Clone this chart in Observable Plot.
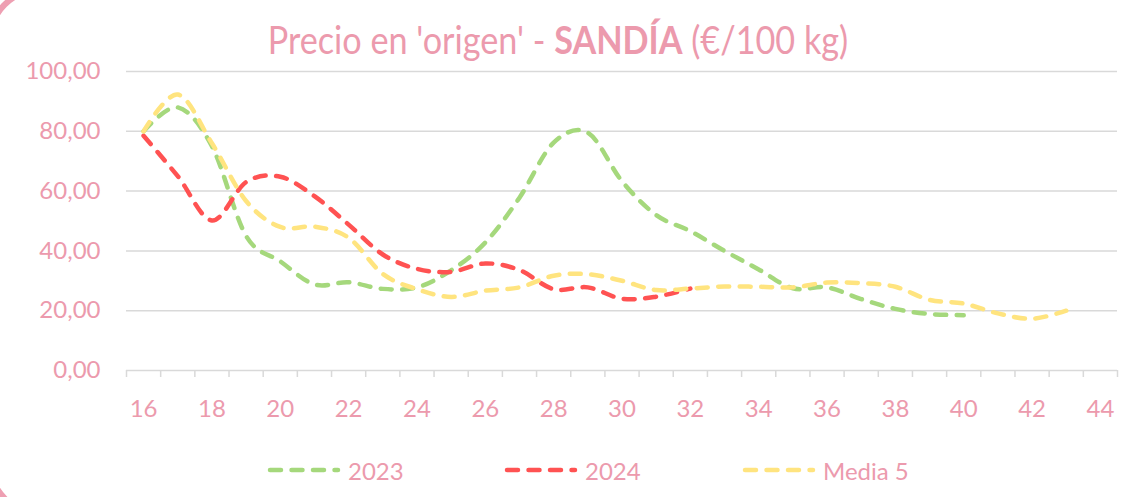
<!DOCTYPE html>
<html>
<head>
<meta charset="utf-8">
<script src="https://cdn.jsdelivr.net/npm/d3@7"></script>
<script src="https://cdn.jsdelivr.net/npm/@observablehq/plot@0.6"></script>
<style>
  html, body { margin: 0; padding: 0; background: #fff; }
  body { width: 1128px; height: 497px; overflow: hidden; position: relative; font-family: Lato, sans-serif; }
  #frame { position: absolute; left: -13px; top: -13px; width: 1220px; height: 529px; border: 6.5px solid #ee9fb2; border-radius: 53px; box-sizing: border-box; pointer-events: none; }
  #head { position: relative; height: 58px; }
  #title { position: absolute; left: 0; top: 20px; width: 1116px; text-align: center; color: #ec9aad; font-size: 38px; line-height: 38px; white-space: nowrap; transform: scaleX(0.9); transform-origin: 558px 50%; }
  #title b { font-weight: 700; }
  #chart { position: relative; height: 390px; }
  #legend { position: absolute; top: 455px; left: 0; width: 1128px; height: 30px; }
  .item { position: absolute; top: 0; height: 30px; display: flex; align-items: center; color: #ec9aad; font-size: 24px; }
  .item svg { margin-right: 6px; }
</style>
</head>
<body>
<div id="frame"></div>
<div id="head"><div id="title">Precio en 'origen' - <b>SANDÍA</b> (€/100 kg)</div></div>
<div id="chart"></div>
<div id="legend"></div>
<script>
// ---- data ----
const weeks = [16,17,18,19,20,21,22,23,24,25,26,27,28,29,30,31,32,33,34,35,36,37,38,39,40,41,42,43,44];
const tickWeeks = [16,18,20,22,24,26,28,30,32,34,36,38,40,42,44];
const yTicks = [0,20,40,60,80,100];
const seriesNames = ["2023", "2024", "Media 5"];
const s2023 = [80,88,75,45,36.5,28.8,29.5,27.3,27.8,33.5,42.8,57.8,76.2,79.5,63.3,52,46.6,40,33.8,27.5,27.8,23.9,20.6,18.9,18.5];
const s2024 = [78.5,65,50.2,63,64.8,58.3,48.8,38.8,34,33,35.8,33.6,27.2,27.8,24,24.7,27.4];
const sMedia = [80,92.3,76,56.7,48,48.1,44.4,32.3,27.2,24.6,26.7,27.8,31.7,32.2,30,26.9,27.4,28.1,28,27.8,29.4,29.2,28,23.6,22.4,19.1,17.3,20];

// ---- styles ----
const pink = "#ec9aad";
const grid = "#d9d9d9";
const colors = ["#a5d87c", "#ff5252", "#ffe47f"];
const dash = "11,10.5";
const lw = 4.5;

const allSeries = [s2023, s2024, sMedia];
const rows = allSeries.map(s => s.map((v, i) => ({week: weeks[i], v})));
const bounds = weeks.map(w => w - 0.5).concat([weeks[weeks.length - 1] + 0.5]);

const plot = Plot.plot({
  width: 1128,
  height: 390,
  marginTop: 13,
  marginBottom: 78,
  marginLeft: 126,
  marginRight: 11,
  style: {fontFamily: "Lato, sans-serif", fontSize: "24px", color: pink, background: "transparent", overflow: "visible"},
  x: {type: "linear", domain: [bounds[0], bounds[bounds.length - 1]]},
  y: {domain: [yTicks[0], yTicks[yTicks.length - 1]]},
  marks: [
    Plot.gridY(yTicks, {stroke: grid, strokeOpacity: 1, strokeWidth: 1.5}),
    Plot.axisX(bounds, {tickSize: 7, tickFormat: () => "", stroke: grid, strokeOpacity: 1, strokeWidth: 1.5, label: null}),
    Plot.axisX(tickWeeks, {tickSize: 0, tickPadding: 29, label: null, tickFormat: d => String(d)}),
    Plot.axisY(yTicks, {tickSize: 0, tickPadding: 26, label: null, tickFormat: d => d.toFixed(2).replace(".", ",")}),
    ...rows.map((r, i) => Plot.line(r, {
      x: "week", y: "v", stroke: colors[i], strokeWidth: lw,
      strokeDasharray: dash, strokeLinecap: "round", strokeLinejoin: "round", curve: "cardinal"
    }))
  ]
});
document.getElementById("chart").appendChild(plot);

// ---- legend ----
const legendLeft = [266, 503, 741];
const legend = document.getElementById("legend");
seriesNames.forEach((name, i) => {
  const d = document.createElement("div");
  d.className = "item";
  d.style.left = legendLeft[i] + "px";
  d.innerHTML = `<svg width="76" height="10"><line x1="4" y1="5" x2="72" y2="5" stroke="${colors[i]}" stroke-width="${lw}" stroke-dasharray="${dash}" stroke-linecap="round"/></svg><span>${name}</span>`;
  legend.appendChild(d);
});
</script>
</body>
</html>
